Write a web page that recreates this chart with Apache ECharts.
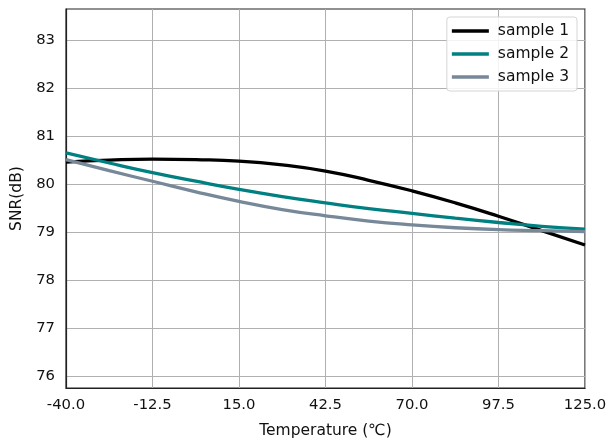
<!DOCTYPE html>
<html><head><meta charset="utf-8">
<script src="https://cdn.jsdelivr.net/npm/echarts@6/dist/echarts.min.js"></script>
<style>html,body{margin:0;padding:0;background:#fff}#c{width:611px;height:444px}</style>
</head><body><div id="c"></div>
<script>
const temps = [-40, -26.25, -12.5, 1.25, 15, 28.75, 42.5, 56.25, 70, 83.75, 97.5, 111.25, 125];
const sample1 = [80.46, 80.50, 80.52, 80.51, 80.48, 80.40, 80.27, 80.08, 79.86, 79.61, 79.33, 79.03, 78.73];
const sample2 = [80.65, 80.44, 80.24, 80.06, 79.89, 79.74, 79.61, 79.49, 79.39, 79.29, 79.20, 79.12, 79.06];
const sample3 = [80.51, 80.28, 80.06, 79.84, 79.64, 79.47, 79.34, 79.23, 79.15, 79.09, 79.05, 79.03, 79.01];
const xTicks = [-40, -12.5, 15, 42.5, 70, 97.5, 125];
const yTicks = [76, 77, 78, 79, 80, 81, 82, 83];
const seriesNames = ['sample 1', 'sample 2', 'sample 3'];
const colors = ['#000000', '#008080', '#778899'];

const font = 'DejaVu Sans';
const txt = '#111';
const mk = (name, vals, color) => ({
  name, type: 'line', smooth: 0.5, symbol: 'none', color,
  lineStyle: {width: 3.3, color},
  data: temps.map((t, i) => [t, vals[i]])
});
const chart = echarts.init(document.getElementById('c'));
chart.setOption({
  animation: false,
  textStyle: {fontFamily: font},
  grid: {left: 66, right: 26, top: 9, bottom: 56, show: true, borderColor: '#222', borderWidth: 1.2, backgroundColor: 'transparent'},
  legend: {
    right: 34, top: 17, orient: 'vertical', icon: 'rect', itemWidth: 37, itemHeight: 3.5, itemGap: 7,
    padding: [6, 8, 6, 5],
    backgroundColor: 'rgba(255,255,255,0.85)', borderColor: '#d5d5d5', borderWidth: 1, borderRadius: 3,
    textStyle: {fontFamily: font, fontSize: 15.5, color: txt, lineHeight: 16, padding: [0, 0, 0, 4]},
    data: seriesNames
  },
  xAxis: {
    type: 'value', min: -40, max: 125,
    name: 'Temperature (℃)', nameLocation: 'middle', nameGap: 35,
    nameTextStyle: {fontFamily: font, fontSize: 15.5, color: txt},
    axisLine: {show: true, onZero: false, lineStyle: {color: '#222', width: 1.2}},
    axisTick: {show: false, customValues: xTicks},
    axisLabel: {customValues: xTicks, formatter: v => v.toFixed(1), fontFamily: font, fontSize: 14.8, color: txt, margin: 10},
    splitLine: {show: true, lineStyle: {color: '#b0b0b0', width: 1}}
  },
  yAxis: {
    type: 'value', min: 75.75, max: 83.65,
    name: 'SNR(dB)', nameLocation: 'middle', nameGap: 41,
    nameTextStyle: {fontFamily: font, fontSize: 15.5, color: txt},
    axisLine: {show: true, onZero: false, lineStyle: {color: '#222', width: 1.2}},
    axisTick: {show: false, customValues: yTicks},
    axisLabel: {customValues: yTicks, fontFamily: font, fontSize: 14.8, color: txt, margin: 11},
    splitLine: {show: true, lineStyle: {color: '#b0b0b0', width: 1}}
  },
  series: [mk(seriesNames[0], sample1, colors[0]), mk(seriesNames[1], sample2, colors[1]), mk(seriesNames[2], sample3, colors[2])]
});
</script></body></html>
